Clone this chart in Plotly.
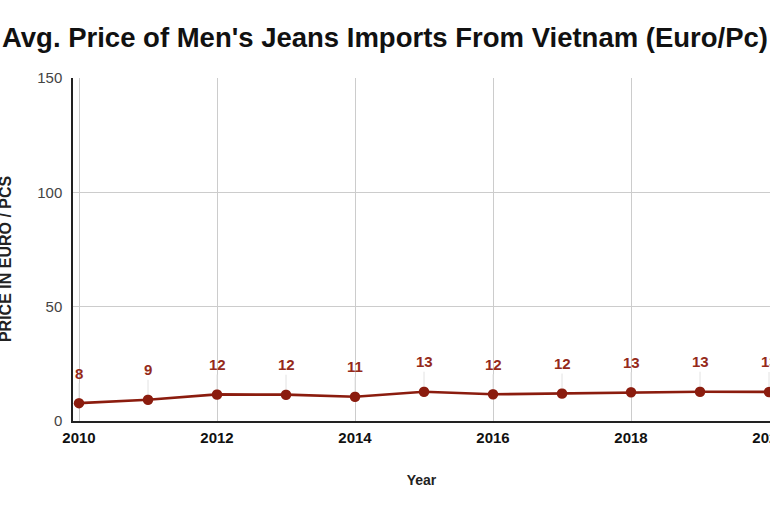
import plotly.graph_objects as go

years = [2010, 2011, 2012, 2013, 2014, 2015, 2016, 2017, 2018, 2019, 2020]
prices = [7.8, 9.3, 11.6, 11.5, 10.6, 12.8, 11.7, 12.0, 12.6, 12.8, 12.7]

line_color = "#8b1c0e"
label_color = "#952a1a"
FONT = "Arial, Liberation Sans, sans-serif"
FIG_W = 800

fig = go.Figure()
fig.add_trace(go.Scatter(
    x=years, y=prices, mode="lines+markers",
    line=dict(color=line_color, width=2.7),
    marker=dict(color=line_color, size=10.5),
    cliponaxis=False, hoverinfo="x+y",
))

for x, y in zip(years, prices):
    fig.add_annotation(
        x=x, y=y, text=f"<b>{y:.0f}</b>", showarrow=True, arrowhead=0,
        arrowcolor="#e2e2e2", arrowwidth=1, ax=0, ay=-30, standoff=5,
        font=dict(family=FONT, size=15, color=label_color),
    )

fig.add_annotation(
    text="<b>PRICE IN EURO / PCS</b>", xref="paper", yref="paper",
    x=-0.0976, y=0.475, xanchor="center", yanchor="middle", textangle=-90, showarrow=False,
    font=dict(family=FONT, size=16, color="#222"),
)

fig.update_layout(
    width=FIG_W, height=513,
    margin=dict(l=73, r=FIG_W - 770, t=78, b=92),
    paper_bgcolor="white", plot_bgcolor="white",
    showlegend=False,
    title=dict(text="<b>Avg. Price of Men's Jeans Imports From Vietnam (Euro/Pc)</b>",
               x=385 / FIG_W, xref="container", xanchor="center", y=0.928, yanchor="middle",
               font=dict(family=FONT, size=27.5, color="#111")),
)
fig.update_xaxes(
    range=[2009.913, 2020.014], tickmode="linear", tick0=2010, dtick=2,
    showgrid=True, gridcolor="#cccccc", gridwidth=1,
    showline=True, linecolor="#222", linewidth=1.5, zeroline=False,
    tickfont=dict(family=FONT, size=15, color="#111", weight="bold"),
    ticklabelstandoff=2,
    title=dict(text="<b>Year</b>", font=dict(family=FONT, size=14, color="#222"), standoff=30),
)
fig.update_yaxes(
    range=[0, 150], tickvals=[0, 50, 100, 150],
    showgrid=True, gridcolor="#cccccc", gridwidth=1,
    showline=True, linecolor="#222", linewidth=1.5, zeroline=False,
    tickfont=dict(family=FONT, size=15, color="#444"),
    ticklabelstandoff=6,
)

fig.write_html(
    "out.html",
    config={"displayModeBar": False},
    post_script="document.body.style.margin='0';document.body.style.overflow='hidden';",
)
